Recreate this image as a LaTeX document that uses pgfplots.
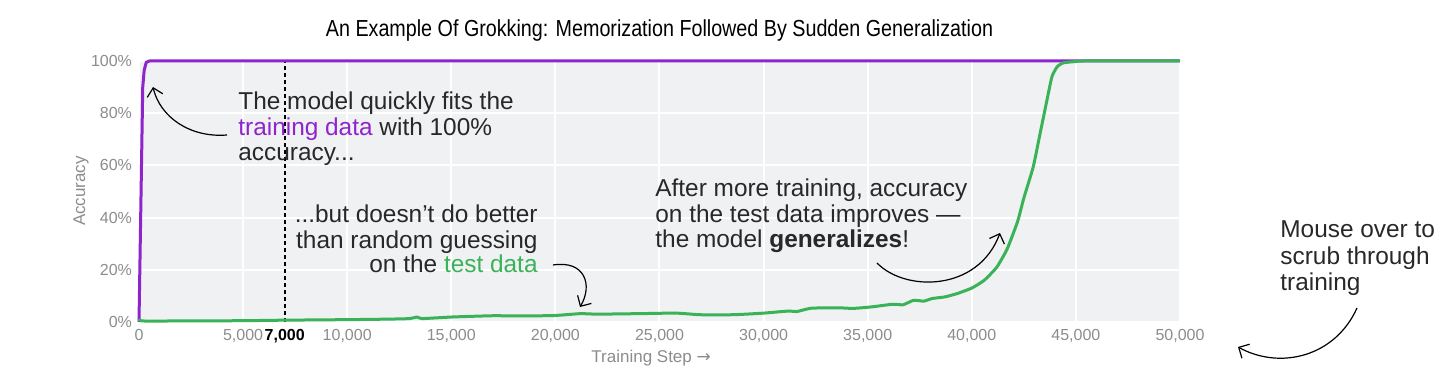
\documentclass[border=0pt]{standalone}
\usepackage{pgfplots}
\pgfplotsset{compat=1.18}
\usepackage{fontspec}
\setmainfont{Liberation Sans}
\newfontfamily\titlefont[FakeStretch=0.85]{Liberation Sans}
\newfontfamily\dejavu{DejaVu Sans}
\usetikzlibrary{arrows.meta}
\definecolor{trainc}{RGB}{142,36,204}
\definecolor{testc}{RGB}{58,178,88}
\definecolor{bgc}{RGB}{240,241,243}
\definecolor{tickc}{RGB}{140,140,140}
\definecolor{txtc}{RGB}{40,40,40}

\pgfplotstableread{
x y
0 0
100 50
180 90
250 96.5
350 99.5
500 100
50000 100
}\traindata

\pgfplotstableread{
x y
0 1.2
150 0.4
2000 0.4
5000 0.5
7000 0.7
10000 0.9
12000 1.1
13000 1.3
13350 1.9
13600 1.3
15000 1.9
17000 2.4
18500 2.3
20000 2.5
21200 3.2
22000 3.0
24000 3.2
25800 3.4
26900 2.8
28000 2.7
28900 2.9
30000 3.4
31200 4.2
31600 4.0
32300 5.3
33700 5.4
34300 5.2
35200 5.8
36200 6.8
36700 6.6
37200 8.3
37700 8.0
38100 9.0
38700 9.6
39300 10.9
40000 13.0
40600 16.0
41200 21.0
41700 28.0
42200 38.5
42500 47.5
42950 59.4
43280 72.2
43610 85.0
43850 94.0
44100 97.8
44400 99.3
45000 99.8
45400 100
50000 100
}\testdata

\begin{document}
\begin{tikzpicture}
\useasboundingbox (0,0) rectangle (728pt,194.5pt);
\begin{axis}[
  at={(69.5pt,33.5pt)}, anchor=south west,
  scale only axis, width=520.5pt, height=130.5pt,
  xmin=0, xmax=50000, ymin=0, ymax=100,
  scaled x ticks=false,
  axis background/.style={fill=bgc},
  axis line style={draw=none},
  tick style={draw=none},
  grid=major, major grid style={white, line width=1pt},
  xtick={0,5000,10000,15000,20000,25000,30000,35000,40000,45000,50000},
  xticklabels={{0},{5,000},{10,000},{15,000},{20,000},{25,000},{30,000},{35,000},{40,000},{45,000},{50,000}},
  ytick={0,20,40,60,80,100},
  yticklabels={0\%,20\%,40\%,60\%,80\%,100\%},
  ticklabel style={font=\fontsize{8}{9}\selectfont, text=tickc},
  extra x ticks={7000},
  extra x tick labels={\textbf{7,000}},
  extra x tick style={grid=major, major grid style={black, dash pattern=on 2pt off 1.5pt, line width=0.8pt}, ticklabel style={text=black}},
  xlabel={Training Step {\dejavu →}},
  ylabel={Accuracy},
  label style={font=\fontsize{8.5}{10}\selectfont, text=tickc},
  xlabel style={at={(axis description cs:0.492,-0.14)}, anchor=center},
  ylabel style={at={(axis description cs:-0.0557,0.502)}, anchor=center},
  title={An Example Of Grokking: Memorization Followed By Sudden Generalization},
  title style={at={(axis description cs:0.5,1)}, anchor=base, yshift=6pt, font=\titlefont\fontsize{11.6}{13}\selectfont, text=black},
  clip=false,
]
\addplot[trainc, line width=1.5pt, line join=round] table[x=x,y=y]{\traindata};
\addplot[testc, line width=1.5pt, line join=round, smooth, tension=0.3] table[x=x,y=y]{\testdata};
\end{axis}
\begin{scope}[x=0.5pt, y=-0.5pt, yshift=194.5pt, every node/.style={inner sep=0pt, text=txtc, font=\fontsize{12.2}{12.85}\selectfont}]
  \node[anchor=base west] at (238,110) {The model quickly fits the};
  \node[anchor=base west] at (238,136) {\textcolor{trainc}{training data} with 100\%};
  \node[anchor=base west] at (238,161) {accuracy...};
  \node[anchor=base east] at (538,223) {...but doesn't do better};
  \node[anchor=base east] at (538,249) {than random guessing};
  \node[anchor=base east] at (538,273) {on the \textcolor{testc}{test data}};
  \node[anchor=base west] at (655,197) {After more training, accuracy};
  \node[anchor=base west] at (655,223) {on the test data improves —};
  \node[anchor=base west] at (655,248) {the model \textbf{generalizes}!};
  \node[anchor=base west] at (1280,238) {Mouse over to};
  \node[anchor=base west] at (1280,265) {scrub through};
  \node[anchor=base west] at (1280,291) {training};
  \begin{scope}[line width=0.6pt, -{Straight Barb[length=4pt,width=8pt]}]
    \draw (227,135) .. controls (190,138) and (160,117) .. (153,87);
    \draw (553,265) .. controls (585,260) and (593,285) .. (580,307);
    \draw (877,263) .. controls (905,292) and (978,292) .. (1000,233);
    \draw (1357,308) .. controls (1335,357) and (1280,370) .. (1238,347);
  \end{scope}
\end{scope}
\end{tikzpicture}
\end{document}
